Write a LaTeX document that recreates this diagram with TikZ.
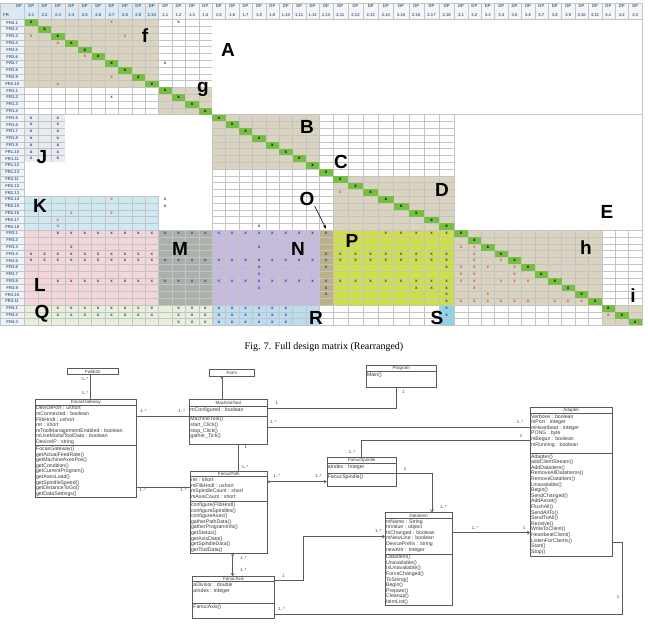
\documentclass[tikz,border=0pt]{standalone}
\usepackage{fontspec}
\setmainfont{Liberation Sans}
\newfontfamily\capfont{Liberation Serif}
\usetikzlibrary{arrows.meta, positioning}

\definecolor{beige}{HTML}{D9D3BF}
\definecolor{diaggreen}{HTML}{77BF43}
\definecolor{jgray}{HTML}{E8ECF0}
\definecolor{kblue}{HTML}{CFE9F3}
\definecolor{lpink}{HTML}{F3D6D9}
\definecolor{mgray}{HTML}{A9AFA9}
\definecolor{npurple}{HTML}{C6B9DF}
\definecolor{oolive}{HTML}{BAB187}
\definecolor{pgreen}{HTML}{CFDF48}
\definecolor{qgreen}{HTML}{E7F1DA}
\definecolor{rblue}{HTML}{BCDDF1}
\definecolor{scyan}{HTML}{8CD3EC}
\definecolor{gridgray}{HTML}{C4C4C4}
\definecolor{headfill}{HTML}{DCE9F3}
\definecolor{headpale}{HTML}{F3F6F9}
\definecolor{frfill}{HTML}{EDF3F8}
\definecolor{xnavy}{HTML}{2F3A8C}
\definecolor{xred}{HTML}{E2473F}
\definecolor{headtext}{HTML}{4A6A8E}
\definecolor{umlgray}{HTML}{5A5A5A}
\definecolor{umlink}{HTML}{3A3A3A}

\tikzset{
    declare function={cx(\x)=24.5+13.4*\x+1.8*max(0,min(\x,31)-23); ry(\x)=19.3+6.8*\x;},
    gridline/.style={draw=gridgray, line width=0.35pt},
    xb/.style={text=xnavy, font=\fontsize{4.5}{4.5}\selectfont\bfseries, inner sep=0pt},
    xr/.style={text=xred, font=\fontsize{4.5}{4.5}\selectfont\bfseries, inner sep=0pt},
    xd/.style={text=black, font=\fontsize{4.5}{4.5}\selectfont\bfseries, inner sep=0pt},
    dphead/.style={align=center, text=headtext, font=\fontsize{4.2}{9}\selectfont\bfseries, inner sep=0pt},
    frhead/.style={text=headtext, font=\fontsize{4.2}{4.2}\selectfont\bfseries, inner sep=0pt},
    blk/.style={font=\fontsize{19}{19}\selectfont\bfseries, inner sep=0pt},
    ptr/.style={-{Stealth[length=4pt, width=3pt]}, line width=0.6pt},
    caption/.style={font=\capfont\fontsize{10}{10}\selectfont, inner sep=0pt},
    umlbox/.style={draw=umlgray, line width=0.6pt, anchor=north west, inner sep=0pt},
    plainbox/.style={umlbox, text=umlink, font=\fontsize{4.5}{5.6}\selectfont},
    umlline/.style={draw=umlgray, line width=0.5pt},
    umltitle/.style={text=umlink, font=\fontsize{4.5}{5.6}\selectfont, inner sep=0pt},
    umlattr/.style={anchor=north west, align=left, inner sep=0.9pt, text=umlink, font=\fontsize{5.2}{5.6}\selectfont},
    assoc/.style={draw=umlgray, line width=0.6pt},
    nav/.style={assoc, -{Straight Barb[length=2.2pt, width=3.2pt]}},
    aggr/.style={assoc, {Diamond[open, length=3.6pt, width=2.6pt]}-{Straight Barb[length=2.2pt, width=3.2pt]}},
    mult/.style={text=umlink, font=\fontsize{4.3}{4.3}\selectfont, inner sep=0pt},
}

% cell ranges of the matrix: first col, first row, last col, last row
\newcommand{\blockfill}[5]{\fill[#5] ({cx(#1)},{ry(#2)}) rectangle ({cx(#3+1)},{ry(#4+1)});}
\newcommand{\blank}[4]{\fill[white] ({cx(#1)+0.3},{ry(#2)+0.3}) rectangle ({cx(#3+1)-0.3},{ry(#4+1)-0.3});}
\newcommand{\xmark}[3]{\node[#3] (x#1-#2) at ({cx(#1+0.5)},{ry(#2+0.5)}) {x};}

% name, north west corner, width, height, title height, attribute height, title, attributes, methods
\newcommand{\umlclass}[9]{
    \node[umlbox, minimum width=#3pt, minimum height=#4pt] (#1) at #2 {};
    \draw[umlline] ([yshift=-#5pt]#1.north west) -- ([yshift=-#5pt]#1.north east);
    \draw[umlline] ([yshift=-#5pt-#6pt]#1.north west) -- ([yshift=-#5pt-#6pt]#1.north east);
    \node[umltitle] (#1-t) at ([yshift=-#5pt/2-0.3pt]#1.north) {#7};
    \node[umlattr] (#1-a) at ([yshift=-#5pt]#1.north west) {#8};
    \node[umlattr] (#1-m) at ([yshift=-#5pt-#6pt]#1.north west) {#9};
}

\begin{document}
\begin{tikzpicture}[x=1pt, y=-1pt]
\useasboundingbox (0,0) rectangle (648,632);

% design matrix
\fill[headfill] (0,3) rectangle ({cx(10)},{ry(0)});
\fill[headpale] ({cx(10)},3) rectangle ({cx(45)},{ry(0)});
\fill[frfill] (0,{ry(0)}) rectangle ({cx(0)},{ry(45)});

\blockfill{0}{0}{9}{9}{beige}
\blockfill{10}{10}{13}{13}{beige}
\blockfill{0}{14}{2}{20}{jgray}
\blockfill{14}{14}{21}{21}{beige}
\blockfill{23}{23}{30}{30}{beige}
\blockfill{0}{26}{9}{30}{kblue}
\blockfill{0}{31}{9}{41}{lpink}
\blockfill{10}{31}{13}{41}{mgray}
\blockfill{14}{31}{21}{41}{npurple}
\blockfill{22}{31}{22}{41}{oolive}
\blockfill{23}{31}{30}{41}{pgreen}
\blockfill{31}{31}{41}{41}{beige}
\blockfill{0}{42}{13}{44}{qgreen}
\blockfill{14}{42}{21}{44}{rblue}
\blockfill{30}{42}{30}{44}{scyan}
\blockfill{42}{42}{44}{44}{beige}

\foreach \i in {0,...,45}
    \draw[gridline] ({cx(\i)},3) -- ({cx(\i)},{ry(45)});
\foreach \j in {0,...,45}
    \draw[gridline] (0,{ry(\j)}) -- ({cx(45)},{ry(\j)});
\draw[gridline] (0,3) -- ({cx(45)},3);

% empty areas without grid
\blank{14}{0}{44}{13}
\blank{31}{14}{44}{30}
\blank{3}{14}{13}{20}
\blank{0}{21}{13}{25}
\blank{10}{26}{13}{30}
\draw[gridline] (0,3) rectangle ({cx(45)},{ry(45)});

\foreach \i in {0,...,44} {
    \blockfill{\i}{\i}{\i}{\i}{diaggreen}
    \node[xd] (d\i) at ({cx(\i+0.5)},{ry(\i+0.5)}) {x};
}

% blue marks: row / first col / last col
\foreach \rr/\ca/\cb in {0/11/11, 6/10/10, 11/6/6, 26/10/10, 27/10/10, 30/17/17,
    31/2/22, 31/26/30, 33/3/3, 33/17/17, 34/0/9, 34/22/30, 35/0/30,
    36/17/17, 36/22/22, 36/30/30, 37/17/17, 38/2/30, 39/17/17, 39/22/22, 39/28/30,
    40/22/22, 40/30/30, 41/30/30, 42/2/9, 42/11/19, 42/30/30,
    43/2/9, 43/11/19, 43/30/30, 44/11/19}
    \foreach \cc in {\ca,...,\cb} {\xmark{\cc}{\rr}{xb}}
\foreach \rr in {14,...,20} {\xmark{0}{\rr}{xb} \xmark{2}{\rr}{xb}}

% red marks: col / row
\foreach \cc/\rr in {6/0, 0/2, 7/2, 2/3, 4/5, 6/8, 2/9, 6/26, 3/28, 6/28, 2/29, 2/30, 23/25,
    31/33, 32/33, 32/34, 32/35, 34/35, 31/36, 32/36, 33/36, 35/36, 31/37, 32/37, 35/37,
    31/38, 32/38, 34/38, 35/38, 36/38, 32/39, 33/40, 31/41, 32/41, 33/41, 34/41, 35/41,
    36/41, 38/41, 39/41, 40/41, 42/43}
    {\xmark{\cc}{\rr}{xr}}

% headers
\node[dphead] (dpc) at (19,6.5) {DP};
\node[frhead] (frc) at (6,15) {FR};
\foreach \lab [count=\k from 0] in {2.1,2.2,2.3,2.4,2.5,2.6,2.7,2.8,2.9,2.10,
    1.1,1.2,1.3,1.4,1.5,1.6,1.7,1.8,1.9,1.10,1.11,1.12,1.13,
    2.11,2.12,2.13,2.14,2.15,2.16,2.17,2.18,
    3.1,3.2,3.3,3.4,3.5,3.6,3.7,3.8,3.9,3.10,3.11,4.1,4.2,4.3} {
    \node[dphead] (dp\k) at ({cx(\k+0.5)},11) {DP\\\lab};
    \node[frhead] (fr\k) at (12.2,{ry(\k+0.5)}) {FR\lab};
}

% block letters
\node[blk] (lf) at (145,36) {f};
\node[blk] (lA) at (228,50) {A};
\node[blk] (lg) at (203,89) {g};
\node[blk] (lB) at (307,127) {B};
\node[blk] (lJ) at (42,157) {J};
\node[blk] (lC) at (341,162) {C};
\node[blk] (lO) at (307,199) {O};
\node[blk] (lD) at (442,190) {D};
\node[blk] (lK) at (40,206) {K};
\node[blk] (lE) at (607,212) {E};
\node[blk] (lM) at (180,249) {M};
\node[blk] (lN) at (298,249) {N};
\node[blk] (lP) at (352,241) {P};
\node[blk] (lh) at (586,248) {h};
\node[blk] (lL) at (40,285) {L};
\node[blk] (li) at (633,296) {i};
\node[blk] (lQ) at (42,314) {Q};
\node[blk] (lR) at (316,318) {R};
\node[blk] (lS) at (437,318) {S};
\coordinate (ocol) at ({cx(22.5)},{ry(30.8)});
\draw[ptr] (lO.south east) -- (ocol);

\node[caption] (cap) at (324,347) {Fig. 7. Full design matrix (Rearranged)};

% class diagram
\node[plainbox, minimum width=51.3pt, minimum height=6pt] (fw) at (67,368.3) {Fwlib32};
\node[plainbox, minimum width=44.7pt, minimum height=6.7pt] (fm) at (209.3,369.3) {Form};
\umlclass{pg}{(366,365)}{69.7}{21.7}{6.7}{0}{Program}{}{Main()}
\umlclass{fg}{(35,399.3)}{101}{98}{5.7}{40.7}{FocasGateway}
    {DevicePort : ushort\\mConnected : boolean\\FlibHndl : ushort\\ret : short\\mToolManagementEnabled : boolean\\mUseModalToolData : boolean\\DeviceIP : string}
    {FocasGateway()\\getActualFeedRate()\\getMachineAxesPos()\\getCondition()\\getCurrentProgram()\\getAxesLoad()\\getSpindleSpeed()\\getDistanceToGo()\\getDataSettings()}
\umlclass{mt}{(189.3,399.3)}{77.4}{44.7}{7.4}{9.3}{MachineTool}
    {mConfigured : boolean}
    {MachineTool()\\start\_Click()\\stop\_Click()\\gather\_Tick()}
\umlclass{ad}{(530,406.7)}{82}{149}{6.6}{40}{Adapter}
    {Verbose : boolean\\mPort : integer\\mHeartbeat : integer\\PONG : byte\\mBegun : boolean\\mRunning : boolean}
    {Adapter()\\addClientStream()\\AddDataItem()\\RemoveAllDataItems()\\RemoveDataItem()\\Unavailable()\\Begin()\\SendChanged()\\AddAsset()\\FlushAll()\\SendAllTo()\\SendToAll()\\Receive()\\WriteToClient()\\HeartbeatClient()\\ListenForClients()\\Start()\\Stop()}
\umlclass{fs}{(326.7,457.3)}{69.3}{28.7}{6}{10}{FanucSpindle}
    {aIndex : Integer}
    {FanucSpindle()}
\umlclass{fp}{(190,470.7)}{76.7}{82}{6}{25}{FanucPath}
    {ret : short\\mFlibHndl : ushort\\mSpindleCount : short\\mAxisCount : short}
    {configure(FlibHndl)\\configureSpindles()\\configureAxes()\\gatherPathData()\\gatherProgramInfo()\\getStatus()\\getAxisData()\\getSpindleData()\\getToolData()}
\umlclass{di}{(385,512.3)}{67}{92.7}{6}{35.5}{DataItem}
    {mName : String\\mValue : object\\mChanged : boolean\\mNewLine : boolean\\DevicePrefix : string\\newAttr : Integer}
    {DataItem()\\Unavailable()\\IsUnavailable()\\ForceChanged()\\ToString()\\Begin()\\Prepare()\\Cleanup()\\ItemList()}
\umlclass{fa}{(192.3,576)}{82}{41.7}{5.7}{21.6}{FanucAxis}
    {aDivisor : double\\aIndex : integer}
    {FanucAxis()}

% links
\draw[assoc] ([xshift=-2.6pt]fw.south) -- ([xshift=-2.6pt]fw.south |- fg.north);
\draw[assoc, {Circle[open, length=2.4pt]}-] ([xshift=-10pt]fm.south) -- ([xshift=-10pt]fm.south |- mt.north);
\draw[assoc] ([yshift=-17.4pt]fg.north east) -- ([yshift=-17.4pt]mt.north west);
\draw[assoc] ([yshift=-9pt]mt.north east) -| ([xshift=-4.8pt]pg.south);
\draw[assoc] ([yshift=-28pt]mt.north east) -- ([yshift=-20.6pt]ad.north west);
\draw[assoc] ([yshift=-33.3pt]ad.north west) -| (fs.north);
\draw[assoc] ([xshift=9.7pt]mt.south) -- ([xshift=9.7pt]mt.south |- fp.north);
\draw[assoc] ([yshift=-87.7pt]fg.north east) -- ([yshift=-16.3pt]fp.north west);
\draw[aggr] ([yshift=-11pt]fp.north east) -- ([yshift=-24.4pt]fs.north west);
\draw[aggr] ([xshift=4pt]fp.south) -- ([xshift=4pt]fp.south |- fa.north);
\draw[nav] ([yshift=-4pt]fa.north east) -- ++(28.4,0) |- ([yshift=-24.4pt]di.north west);
\draw[nav] ([yshift=-16pt]fs.north east) -| ([xshift=13.2pt]di.north);
\draw[nav] ([yshift=-20.4pt]di.north east) -- ([yshift=-126pt]ad.north west);
\draw[assoc] ([yshift=-38pt]fa.north east) -- ++(347.7,0) |- ([yshift=-136pt]ad.north east);

% multiplicities
\foreach \px/\py/\t [count=\n] in {85/379/1..*, 85/393/1..*, 143.3/411/1..*, 181.7/411/1..*,
    276.7/403.3/1, 403.3/391.7/1, 273.3/422.3/1..*, 520/421.7/1..*,
    521/436.5/1, 352/451.7/1..*, 245.7/446.7/1, 245/466.7/1..*,
    142.7/490/1..*, 183.3/490/1..*, 276.7/476.5/1..*, 318.3/476.5/1..*,
    243.3/558.3/1..*, 243.3/570/1..*, 283.3/576/1, 378.3/530.7/1..*,
    405/469.3/1, 443.3/506.7/1..*, 475/528.3/1..*, 524/528.3/1,
    281.7/609.3/1..*, 618/597/1}
    \node[mult] (m\n) at (\px,\py) {\t};
\end{tikzpicture}
\end{document}
